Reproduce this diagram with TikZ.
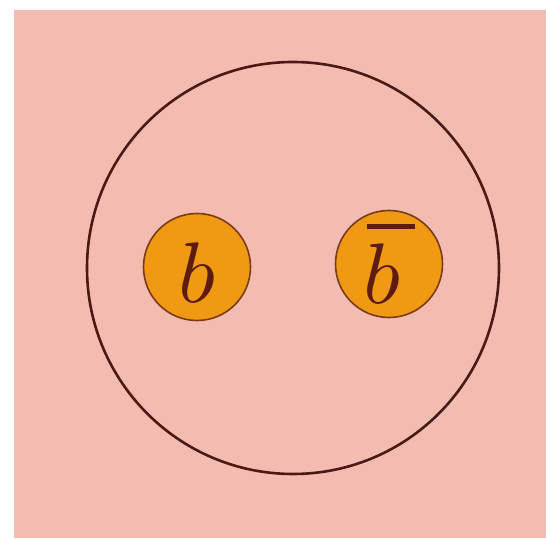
\documentclass[tikz,border=0pt]{standalone}
\usepackage{graphicx}
\usepackage{tikz}
\usepackage{xcolor}
\usetikzlibrary{positioning}
\definecolor{bgpink}  {HTML}{F4BBB1}
\definecolor{rim}     {HTML}{4A1A14}
\definecolor{quarkrim}{HTML}{7A3A12}
\definecolor{quarkor} {HTML}{F09A14}
\definecolor{quarkink}{HTML}{5E1C0C}
% big italic letter, and the same with a heavy bar over it
\newcommand{\bigsym}[1]{\scalebox{8.6}{$#1$}}
\newcommand{\antisym}[1]{\vbox{\hbox{\kern3pt\rule{48pt}{5pt}}\kern14pt
                               \hbox{\bigsym{#1}}}}
\tikzset{
  meson/.style  ={circle, draw=rim, line width=2.6pt, minimum size=412pt,
                  inner sep=0pt},
  quark/.style  ={circle, draw=quarkrim, fill=quarkor, line width=1.6pt,
                  minimum size=107pt, inner sep=0pt, text=quarkink},
}
\begin{document}
\begin{tikzpicture}[x=1pt,y=1pt]
  \useasboundingbox (0,0) rectangle (546,538);
  \fill[bgpink] (14,0) rectangle (546,528);

  \node[meson] (hadron) at (293,270) {};
  \node[quark, text height=72pt, text depth=0pt] (qb) at (197,271) {\bigsym{b}};
  \node[quark] (qbbar) at (389,274) {\antisym{b}};
\end{tikzpicture}
\end{document}
